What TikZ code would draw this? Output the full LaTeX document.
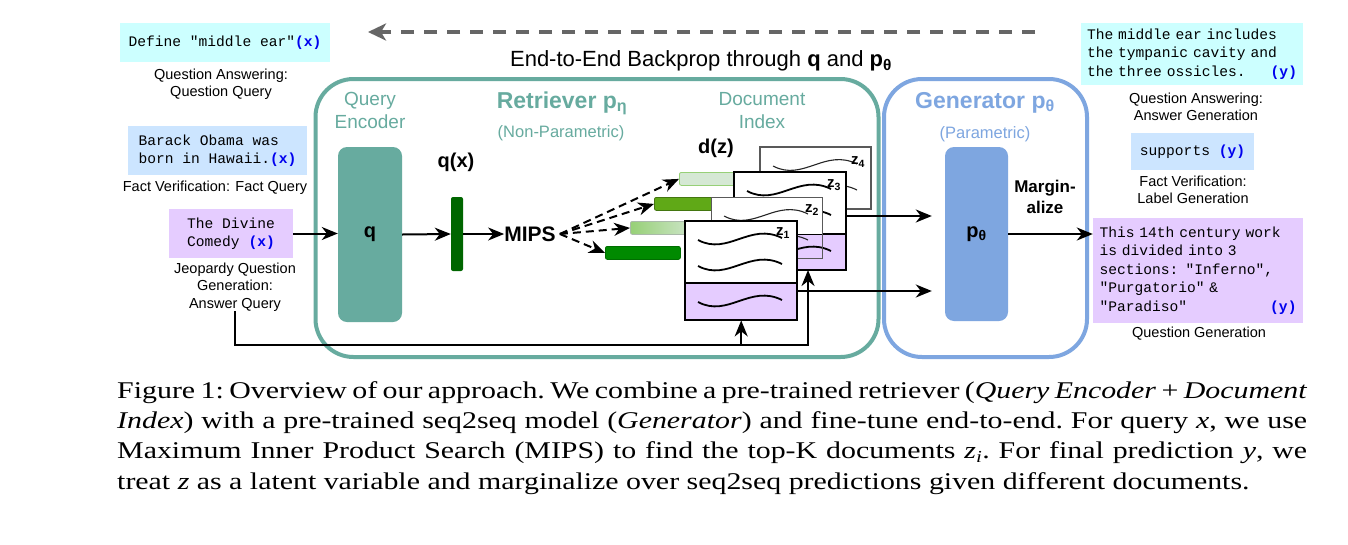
\documentclass[tikz,border=0pt]{standalone}
\usepackage{fontspec}
\setmainfont{Liberation Serif}
\setsansfont{Liberation Sans}
\setmonofont{Liberation Mono}
\newfontfamily\capfont[FakeStretch=1.245]{Liberation Serif}
\usepackage{xcolor}
\usetikzlibrary{arrows.meta,positioning}

\definecolor{tealrag}{HTML}{67AB9F}
\definecolor{bluegen}{HTML}{7EA6E0}
\definecolor{cyanbg}{HTML}{CCFFFF}
\definecolor{bluebg}{HTML}{CCE5FF}
\definecolor{lilacbg}{HTML}{E5CCFF}
\definecolor{xyblue}{HTML}{0000EE}
\definecolor{qxgreen}{HTML}{006600}
\definecolor{dzdark}{HTML}{008A00}
\definecolor{dzmid}{HTML}{60A917}
\definecolor{dzlight}{HTML}{D5E8D4}
\definecolor{dzfade}{HTML}{97D077}
\definecolor{backgray}{HTML}{666666}

\newcommand{\tvar}[1]{\textcolor{xyblue}{\textbf{#1}}}
\newcommand{\docwave}[3][]{\begin{scope}[shift={(#2,#3)}]
  \draw[#1] (0,0) .. controls (30,16) and (52,-18) .. (84,-2);
\end{scope}}

\tikzset{
  every node/.style={inner sep=0pt},
  sanslbl/.style={font=\sffamily\fontsize{14.5}{17.5}\selectfont, align=center},
  examplebox/.style={font=\ttfamily\fontsize{14.6}{18.5}\selectfont, align=left},
  sanstitle/.style={font=\sffamily\fontsize{22}{26}\selectfont},
  headlbl/.style={font=\sffamily\fontsize{19}{23}\selectfont, align=center},
  titlelbl/.style={font=\sffamily\bfseries\fontsize{23}{27}\selectfont},
  sublbl/.style={font=\sffamily\fontsize{16.5}{20}\selectfont},
  boldlbl/.style={font=\sffamily\bfseries\fontsize{20}{24}\selectfont, align=center},
  zlbl/.style={font=\sffamily\bfseries\fontsize{15}{18}\selectfont},
  groupbox/.style={line width=4pt, rounded corners=38pt},
  encoder/.style={rounded corners=9pt, draw=none},
  qvec/.style={fill=qxgreen, rounded corners=2pt},
  dzbar/.style={line width=0.8pt, rounded corners=2pt, minimum height=13pt, anchor=north west},
  docbody/.style={fill=white, draw=none, anchor=north west},
  docthick/.style={line width=2.2pt, draw=black},
  docthin/.style={line width=1.3pt, draw=black!65},
  wavethick/.style={line width=1.8pt},
  wavethin/.style={line width=1.1pt, black!85},
  link/.style={line width=2pt, -{Stealth[length=16pt,width=13pt,inset=5pt]}},
  mipslink/.style={link, dash pattern=on 8pt off 5pt},
  backprop/.style={draw=backgray, line width=3.5pt, dash pattern=on 13pt off 10pt,
    -{Stealth[length=18pt,width=17pt,inset=5pt]}}
}

\begin{document}
\begin{tikzpicture}[x=1pt,y=-1pt]
  \fill[white] (0,0) rectangle (1348,544);
  \useasboundingbox (0,0) rectangle (1348,544);

  \coordinate (bpright) at (1035,32);
  \coordinate (bpleft) at (368,32);
  \draw[backprop] (bpright) -- (bpleft);
  \node[sanstitle, anchor=base] (bptext) at (701,66) {End-to-End Backprop through \textbf{q} and \textbf{p\textsubscript{θ}}};

  \node[groupbox, draw=tealrag, minimum width=563pt, minimum height=278pt] (retriever) at (597,218) {};
  \node[groupbox, draw=bluegen, minimum width=203pt, minimum height=278pt] (generator) at (985.5,218) {};

  \node[headlbl, text=tealrag] (qenclbl) at (370,110) {Query\\Encoder};
  \node[titlelbl, text=tealrag, anchor=base] (retrlbl) at (562,108) {Retriever p\textsubscript{η}};
  \node[sublbl, text=tealrag, anchor=base] (retrsub) at (561,137) {(Non-Parametric)};
  \node[headlbl, text=tealrag] (dilbl) at (762,111) {Document\\Index};
  \node[titlelbl, text=bluegen, anchor=base] (genlbl) at (985,108) {Generator p\textsubscript{θ}};
  \node[sublbl, text=bluegen, anchor=base] (gensub) at (985,138) {(Parametric)};

  \node[examplebox, fill=cyanbg, minimum width=210pt, minimum height=39pt] (qdef) at (225,42.5) {Define "middle ear"\tvar{(x)}};
  \node[sanslbl] (qdeflbl) at (221,84) {Question Answering:\\Question Query};
  \node[examplebox, fill=bluebg, minimum width=179pt, minimum height=49pt] (qfact) at (217.5,150.5) {Barack Obama was\\born in Hawaii.\tvar{(x)}};
  \node[sanslbl] (qfactlbl) at (215,188) {Fact Verification: Fact Query};
  \node[examplebox, fill=lilacbg, minimum width=124pt, minimum height=49pt] (qjeop) at (231,233.5) {The Divine\\Comedy \tvar{(x)}};
  \node[sanslbl] (qjeoplbl) at (235,287) {Jeopardy Question\\Generation:\\Answer Query};

  \node[examplebox, fill=cyanbg, minimum width=222pt, minimum height=62pt, text width=210pt] (adef) at (1192,54) {The middle ear includes\\the tympanic cavity and\\the three ossicles.\hfill\tvar{(y)}};
  \node[sanslbl] (adeflbl) at (1196,107) {Question Answering:\\Answer Generation};
  \node[examplebox, fill=bluebg, minimum width=123pt, minimum height=37pt] (afact) at (1192.5,151.5) {supports \tvar{(y)}};
  \node[sanslbl] (afactlbl) at (1193,190) {Fact Verification:\\Label Generation};
  \node[examplebox, fill=lilacbg, minimum width=210pt, minimum height=105pt, text width=197pt] (ajeop) at (1198,270.5) {This 14th century work\\is divided into 3\\sections: "Inferno",\\"Purgatorio" \&\\"Paradiso"\hfill\tvar{(y)}};
  \node[sanslbl] (ajeoplbl) at (1199,334) {Question Generation};

  \node[encoder, fill=tealrag, minimum width=64pt, minimum height=175pt, boldlbl] (qenc) at (370,234.5) {q};
  \node[encoder, fill=bluegen, minimum width=63pt, minimum height=174pt, boldlbl] (ptheta) at (976.5,234) {p\textsubscript{θ}};
  \node[boldlbl] (qxlbl) at (456,162) {q(x)};
  \node[qvec, minimum width=12pt, minimum height=74pt] (qx) at (457,234) {};
  \node[boldlbl, font=\sffamily\bfseries\fontsize{21}{24}\selectfont] (mips) at (530,234) {MIPS};
  \node[boldlbl] (dzlbl) at (716,148) {d(z)};
  \node[boldlbl, font=\sffamily\bfseries\fontsize{17}{21}\selectfont] (marg) at (1045,197) {Margin-\\alize};

  \node[dzbar, fill=dzlight, draw=dzfade, minimum width=70pt] (bar1) at (679,172) {};
  \node[dzbar, fill=dzmid, draw=dzmid!70!black, minimum width=70pt] (bar2) at (654,197) {};
  \node[dzbar, left color=dzfade, right color=dzlight, draw=dzlight!80!black, minimum width=70pt] (bar3) at (630,221) {};
  \node[dzbar, fill=dzdark, draw=dzdark!80!black, minimum width=75pt] (bar4) at (605,246) {};

  \begin{scope}[shift={(760,147)}]
    \node[docbody, minimum width=111pt, minimum height=62pt] (doc4) at (0,0) {};
    \docwave[wavethin]{13}{19}
    \docwave[wavethin]{13}{45}
    \draw[docthin] (0,0) rectangle (111,62);
    \node[zlbl] (z4) at (98,15) {z\textsubscript{4}};
  \end{scope}
  \begin{scope}[shift={(734,172)}]
    \node[docbody, minimum width=112pt, minimum height=98pt] (doc3) at (0,0) {};
    \fill[lilacbg] (0,62) rectangle (112,98);
    \docwave[wavethick]{13}{19}
    \docwave[wavethick]{13}{45}
    \docwave[wavethick]{13}{81}
    \draw[docthick] (0,0) rectangle (112,98) (0,62) -- (112,62);
    \node[zlbl] (z3) at (100,13) {z\textsubscript{3}};
    \coordinate (doc3out) at (112,44);
    \coordinate (doc3in) at (74,98);
  \end{scope}
  \begin{scope}[shift={(711,197)}]
    \fill[white] (0,0) rectangle (111,37);
    \docwave[wavethin]{13}{19}
    \docwave[wavethin]{13}{45}
    \node[docthin, minimum width=111pt, minimum height=61pt, anchor=north west] (doc2) at (0,0) {};
    \node[zlbl] (z2) at (101,13) {z\textsubscript{2}};
  \end{scope}
  \begin{scope}[shift={(685,221)}]
    \node[docbody, minimum width=112pt, minimum height=99pt] (doc1) at (0,0) {};
    \fill[lilacbg] (0,62) rectangle (112,99);
    \docwave[wavethick]{13}{19}
    \docwave[wavethick]{13}{45}
    \docwave[wavethick]{13}{81}
    \draw[docthick] (0,0) rectangle (112,99) (0,62) -- (112,62);
    \node[zlbl] (z1) at (98,12) {z\textsubscript{1}};
    \coordinate (doc1out) at (112,70);
  \end{scope}

  \draw[link] (qjeop.east) -- (qjeop.east -| qenc.west);
  \draw[link] (qenc.east) -- (qx.west);
  \draw[link] (qx.east) -- (mips.west);
  \foreach \b in {bar1,bar2,bar3,bar4}
    \draw[mipslink] ([xshift=4pt]mips.east) -- (\b.west);
  \draw[link, shorten >=13pt] (doc3out) -- (doc3out -| ptheta.west);
  \draw[link, shorten >=13pt] (doc1out) -- (doc1out -| ptheta.west);
  \draw[link] (ptheta.east) -- (ptheta.east -| ajeop.west);
  \coordinate (fbrow) at (0,345);
  \draw[link] (qjeoplbl.south) |- (fbrow -| doc3in) -- (doc3in);
  \draw[link] (fbrow -| doc1.south) -- (doc1.south);

  \node[anchor=north west, text width=1190pt, align=justify, font=\capfont\frenchspacing\fontsize{24}{30.3}\selectfont] (caption) at (117,381)
    {Figure 1: Overview of our approach. We combine a pre-trained retriever (\textit{Query Encoder} + \textit{Document}\linebreak
     \textit{Index}) with a pre-trained seq2seq model (\textit{Generator}) and fine-tune end-to-end. For query \textit{x}, we use\linebreak
     Maximum Inner Product Search (MIPS) to find the top-K documents \textit{z}\textsubscript{\textit{i}}. For final prediction \textit{y}, we\linebreak
     treat \textit{z} as a latent variable and marginalize over seq2seq predictions given different documents.};
\end{tikzpicture}
\end{document}
